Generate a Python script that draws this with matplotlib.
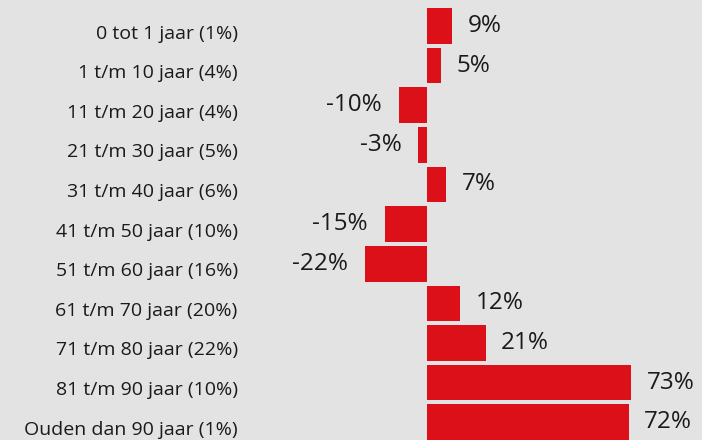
import matplotlib.pyplot as plt
from matplotlib.transforms import ScaledTranslation

categories = ['0 tot 1 jaar (1%)', '1 t/m 10 jaar (4%)', '11 t/m 20 jaar (4%)',
              '21 t/m 30 jaar (5%)', '31 t/m 40 jaar (6%)', '41 t/m 50 jaar (10%)',
              '51 t/m 60 jaar (16%)', '61 t/m 70 jaar (20%)', '71 t/m 80 jaar (22%)',
              '81 t/m 90 jaar (10%)', 'Ouden dan 90 jaar (1%)']
values = [9, 5, -10, -3, 7, -15, -22, 12, 21, 73, 72]

bg = '#e3e3e3'
red = '#dc1018'
txt = '#1a1a1a'

plt.rcParams['font.family'] = ['Open Sans', 'DejaVu Sans']

fig = plt.figure(figsize=(7.02, 4.40), dpi=100, facecolor=bg)
ax = fig.add_axes([0.35, 0.0, 0.65, 1.0])
ax.set_facecolor(bg)

pos = list(range(len(values)))
ax.barh(pos, values, height=0.9, color=red)

for y, v in zip(pos, values):
    off = 11 if v >= 0 else -12
    ax.annotate(f'{v}%', (v, y), xytext=(off, 0), textcoords='offset points',
                ha='left' if v >= 0 else 'right', va='center',
                fontsize=17.5, color=txt)

ax.set_xlim(-64.6, 98.2)
ax.set_ylim(10.45, -0.657)
ax.set_yticks(pos)
ax.set_yticklabels(categories, fontsize=14, color=txt)
ax.tick_params(axis='y', length=0, pad=5.8)
ax.set_xticks([])
for s in ax.spines.values():
    s.set_visible(False)

shift = ScaledTranslation(0, -4 / 72, fig.dpi_scale_trans)
for lab in ax.get_yticklabels():
    lab.set_transform(lab.get_transform() + shift)

fig.savefig('out.png', dpi=100, facecolor=bg)
